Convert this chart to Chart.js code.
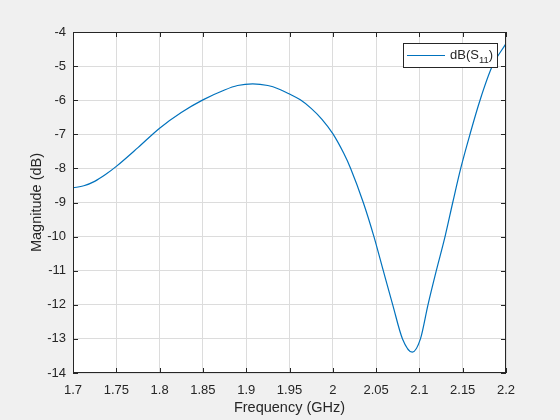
<!DOCTYPE html>
<html>
<head>
<meta charset="utf-8">
<script src="https://cdn.jsdelivr.net/npm/chart.js@4.4.0/dist/chart.umd.min.js"></script>
<style>
  body { margin: 0; background: #f0f0f0; }
  #wrap { width: 560px; height: 420px; }
</style>
</head>
<body>
<div id="wrap"><canvas id="myChart" width="560" height="420"></canvas></div>
<script>
// data (GHz, dB)
const freq = [1.7, 1.7125, 1.725, 1.7375, 1.75, 1.775, 1.8, 1.825, 1.85, 1.875, 1.89, 1.9075, 1.925, 1.9375, 1.95, 1.9625, 1.975, 1.9875, 2.0, 2.0125, 2.0206, 2.0352, 2.0475, 2.0583, 2.0692, 2.0805, 2.0918, 2.1012, 2.1099, 2.1195, 2.1296, 2.1385, 2.1477, 2.1584, 2.17, 2.1842, 2.2];
const s11 = [-8.57, -8.51, -8.38, -8.18, -7.94, -7.39, -6.82, -6.36, -5.99, -5.7, -5.57, -5.52, -5.57, -5.67, -5.82, -5.99, -6.24, -6.56, -6.98, -7.55, -8.0, -9.0, -10.0, -11.0, -12.0, -13.0, -13.39, -13.0, -12.0, -11.0, -10.0, -9.0, -8.0, -7.0, -6.0, -5.0, -4.34];
const xTicks = { min: 1.7, max: 2.2, step: 0.05 };
const yTicks = { min: -14, max: -4, step: 1 };
const seriesLabel = 'dB(S11)';

const axisColor = '#262626';
const lineColor = '#0072BD';
const font = 'Arial, "Liberation Sans", Helvetica, sans-serif';

// white plot box, inward ticks on all four sides, legend with subscript
const matlabAxes = {
	id: 'matlabAxes',
	beforeDraw(chart) {
		const a = chart.chartArea;
		const c = chart.ctx;
		c.save();
		c.fillStyle = '#ffffff';
		c.fillRect(a.left, a.top, a.right - a.left, a.bottom - a.top);
		c.restore();
	},
	afterDraw(chart) {
		const a = chart.chartArea;
		const c = chart.ctx;
		const xs = chart.scales.x, ys = chart.scales.y;
		c.save();
		c.strokeStyle = axisColor;
		c.lineWidth = 1;
		c.beginPath();
		xs.ticks.forEach(t => {
			const px = Math.round(xs.getPixelForValue(t.value)) + 0.5;
			c.moveTo(px, a.bottom); c.lineTo(px, a.bottom - 5);
			c.moveTo(px, a.top); c.lineTo(px, a.top + 5);
		});
		ys.ticks.forEach(t => {
			const py = Math.round(ys.getPixelForValue(t.value)) + 0.5;
			c.moveTo(a.left, py); c.lineTo(a.left + 5, py);
			c.moveTo(a.right, py); c.lineTo(a.right - 5, py);
		});
		c.stroke();
		c.strokeRect(Math.round(a.left) + 0.5, Math.round(a.top) + 0.5, Math.round(a.right - a.left) - 1, Math.round(a.bottom - a.top) - 1);

		// legend
		const lx = 403, ly = 43, lw = 94, lh = 24;
		c.fillStyle = '#ffffff';
		c.fillRect(lx, ly, lw, lh);
		c.strokeRect(lx + 0.5, ly + 0.5, lw, lh);
		c.strokeStyle = lineColor;
		c.beginPath();
		c.moveTo(lx + 4, ly + 12.5); c.lineTo(lx + 42, ly + 12.5);
		c.stroke();
		const lab = chart.data.datasets[0].label;
		const m = lab.match(/^(.*?S)(\d+)(\))$/);
		c.fillStyle = axisColor;
		c.textBaseline = 'alphabetic';
		let tx = lx + 47;
		c.font = '13px ' + font;
		c.fillText(m[1], tx, ly + 16);
		tx += c.measureText(m[1]).width;
		c.font = '9.5px ' + font;
		c.fillText(m[2], tx, ly + 20);
		tx += c.measureText(m[2]).width;
		c.font = '13px ' + font;
		c.fillText(m[3], tx, ly + 16);
		c.restore();
	}
};

const ctx = document.getElementById('myChart').getContext('2d');
const SensorChart = new Chart(ctx, {
	type: 'line',
	data: {
		datasets: [{
			label: seriesLabel,
			data: freq.map((f, i) => ({ x: f, y: s11[i] })),
			borderColor: lineColor,
			borderWidth: 1.2,
			pointRadius: 0,
			cubicInterpolationMode: 'monotone',
			fill: false,
		}],
	},
	options: {
		responsive: false,
		animation: false,
		layout: { padding: { top: 32, right: 54, left: 0, bottom: 0 } },
		plugins: { legend: { display: false }, tooltip: { enabled: false } },
		scales: {
			x: {
				type: 'linear',
				min: xTicks.min,
				max: xTicks.max,
				afterFit(s) { s.height = 47; },
				ticks: {
					stepSize: xTicks.step,
					color: axisColor,
					padding: 10,
					maxRotation: 0,
					font: { family: font, size: 13 },
					callback: v => String(Number(v.toFixed(2))),
				},
				grid: { color: '#dcdcdc', drawTicks: false },
				border: { display: false },
				title: {
					display: true,
					text: 'Frequency (GHz)',
					color: axisColor,
					font: { family: font, size: 14.5 },
					padding: { top: 0, bottom: 3.6 },
				},
			},
			y: {
				min: yTicks.min,
				max: yTicks.max,
				afterFit(s) { s.width = 73; },
				ticks: {
					stepSize: yTicks.step,
					color: axisColor,
					padding: 7,
					font: { family: font, size: 13 },
				},
				grid: { color: '#dcdcdc', drawTicks: false },
				border: { display: false },
				title: {
					display: true,
					text: 'Magnitude (dB)',
					color: axisColor,
					font: { family: font, size: 14.5 },
					padding: { top: 28.6, bottom: 0 },
				},
			},
		},
	},
	plugins: [matlabAxes],
});
</script>
</body>
</html>
